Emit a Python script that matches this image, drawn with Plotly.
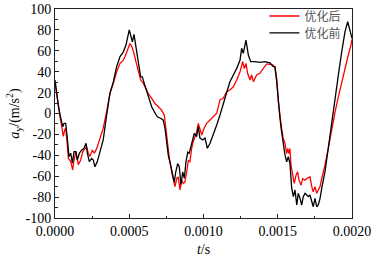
import plotly.graph_objects as go

# time in microseconds (converted to seconds below), acceleration in m/s^2
t_after_us = [0, 11, 22, 34, 45, 56, 65, 72, 83, 90, 106, 119, 128, 141, 157, 173, 187, 202, 213, 224,
              236, 251, 265, 281, 303, 325, 348, 370, 393, 415, 438, 460, 471, 490, 505, 517, 532, 545, 561, 577,
              595, 611, 628, 651, 673, 696, 718, 736, 747, 759, 770, 786, 797, 808, 820, 830, 842, 853, 864, 875,
              887, 898, 909, 920, 931, 943, 954, 965, 976, 988, 999, 1021, 1044, 1066, 1089, 1111, 1133, 1156, 1178, 1201,
              1224, 1246, 1264, 1275, 1286, 1297, 1313, 1324, 1336, 1358, 1380, 1403, 1426, 1448, 1468, 1481, 1493, 1504, 1515, 1526,
              1537, 1549, 1560, 1567, 1575, 1582, 1589, 1598, 1611, 1623, 1634, 1643, 1657, 1668, 1684, 1695, 1706, 1717, 1729, 1739,
              1751, 1762, 1773, 1785, 1796, 1818, 1840, 1863, 1886, 1908, 1931, 1953, 1975, 1993, 2000]
a_after = [30, 18, 5, -3, -12, -22, -16, -14, -30, -43, -46, -54, -44.5, -36.5, -49, -44.5, -36.5, -33.4, -32, -38,
           -41, -35, -38, -33.4, -23.7, -14, 2, 19.3, 29, 40, 48, 51, 54.4, 60.8, 67, 64, 57.6, 49.6, 41.6, 32,
           28.8, 24, 19, 14.4, 9.6, 6.4, 3.2, -1.6, -16, -30, -43, -56, -64, -70, -62, -60.7, -73, -64, -67, -65.5,
           -56, -45, -46, -33.5, -27, -22, -17.4, -9.4, -15.8, -20.6, -15.8, -9.4, -6.2, -3, 0.2, 13, 14.5, 20.9, 22.5, 25.6,
           32, 40, 49.6, 43, 48, 38.5, 32, 36.8, 30.4, 36.8, 38.5, 43.2, 47.4, 47, 46.4, 44, 33.6, 11.3, -4.8, -14.4,
           -23.9, -28.7, -38.3, -33.5, -38.3, -33.5, -49.4, -57.4, -66.9, -59, -55.8, -63.8, -68.6, -62.2, -63.8, -62.2, -61.5, -60.6, -70, -75,
           -70, -76.4, -73.2, -70, -62.2, -49.4, -33.5, -14.4, 1.6, 16, 30.5, 43.2, 56, 65.5, 71]

t_before_us = [0, 11, 22, 34, 52, 61, 72, 83, 94, 106, 117, 128, 141, 150, 164, 180, 195, 209, 218, 231,
               247, 258, 269, 285, 303, 325, 348, 370, 393, 415, 438, 460, 478, 490, 500, 512, 521, 532, 543, 554,
               566, 577, 588, 601, 618, 633, 651, 669, 689, 714, 729, 741, 752, 763, 779, 793, 803, 813, 826, 837,
               848, 860, 871, 882, 894, 904, 916, 927, 938, 954, 965, 976, 995, 1010, 1026, 1044, 1066, 1089, 1111, 1133,
               1156, 1178, 1201, 1224, 1246, 1257, 1268, 1286, 1302, 1318, 1347, 1380, 1414, 1448, 1468, 1481, 1493, 1504, 1515, 1526,
               1537, 1549, 1560, 1571, 1582, 1594, 1605, 1616, 1628, 1638, 1650, 1661, 1672, 1684, 1695, 1706, 1717, 1729, 1739, 1751,
               1762, 1773, 1785, 1796, 1818, 1840, 1863, 1886, 1908, 1931, 1953, 1971, 1987, 2000]
a_before = [32, 19.3, 8, -1.4, -12.6, -9.4, -9.4, -23.7, -41.3, -38, -47.6, -36.5, -36.5, -44.5, -38, -35, -33.4, -28.5, -38, -46,
            -43, -44.5, -51, -46, -36.5, -25, -1.4, 19.3, 30.5, 44.8, 54.4, 59, 65.5, 72, 80, 73.5, 68.6, 75.7, 64, 54.4,
            44.8, 35, 35, 28.8, 20.8, 12.8, 6.4, 1.6, -3.2, -4.8, -6.4, -14.4, -27, -40, -49.5, -59, -66, -56, -48, -51,
            -68, -56, -62, -46, -37, -38, -32, -24, -19, -22, -12.6, -23.5, -25.4, -23.5, -33.3, -28.5, -20.6, -11, -1.4, 9.8,
            19.3, 30.4, 36.8, 43.2, 51.2, 62.4, 57.6, 70.3, 56, 49.6, 49.6, 49, 49.6, 48.5, 45, 44.8, 30.5, 11.3, -4.8, -17.5,
            -30.3, -39.9, -46.2, -41.4, -47.8, -71.6, -79.6, -73.2, -87.6, -76.4, -81.2, -87.6, -79.6, -76.4, -78, -79.6, -78, -84.4, -89.2, -81.2,
            -89.2, -87.6, -81.2, -71.6, -55.7, -33.3, -7.8, 14.5, 36.8, 59.2, 78.3, 87.9, 79.9, 72]

x_tickvals = [0, 0.0005, 0.001, 0.0015, 0.002]
x_ticktext = ["0.0000", "0.0005", "0.0010", "0.0015", "0.0020"]
y_tickvals = [-100, -80, -60, -40, -20, 0, 20, 40, 60, 80, 100]
y_ticktext = ["-100", "-80", "-60", "-40", "-20", "0", "20", "40", "60", "80", "100"]

label_after = "优化后"
label_before = "优化前"

t_after = [v * 1e-6 for v in t_after_us]
t_before = [v * 1e-6 for v in t_before_us]

fig = go.Figure()
fig.add_trace(go.Scatter(x=t_after, y=a_after, mode="lines", name=label_after, legend="legend",
                         line=dict(color="#ff0000", width=1.3)))
fig.add_trace(go.Scatter(x=t_before, y=a_before, mode="lines", name=label_before, legend="legend2",
                         line=dict(color="#000000", width=1.3)))

serif = "Liberation Serif"
axis_common = dict(showgrid=False, zeroline=False, showline=True, linecolor="#222", linewidth=1,
                   mirror=True, ticks="inside", tickcolor="#222", ticklen=4, automargin=False,
                   tickfont=dict(family=serif, size=14, color="#000"))

fig.update_xaxes(range=[0, 0.002], tickvals=x_tickvals, ticktext=x_ticktext,
                 minor=dict(ticks="inside", ticklen=2.5, dtick=0.00025, tickcolor="#222"),
                 title=dict(text="<i>t</i>/s", font=dict(family=serif, size=14, color="#000"), standoff=6),
                 **axis_common)
fig.update_yaxes(range=[-100, 100], tickvals=y_tickvals, ticktext=y_ticktext,
                 minor=dict(ticks="inside", ticklen=2.5, dtick=10, tickcolor="#222"),
                 title=dict(text="<i>a</i><sub>y</sub>/(m/s<sup>2</sup>)", font=dict(family=serif, size=14, color="#000"), standoff=2),
                 **axis_common)

legend_style = dict(xanchor="left", yanchor="top", bgcolor="rgba(0,0,0,0)",
                    font=dict(family="Noto Sans CJK SC", size=12, color="#555"),
                    itemwidth=30)
fig.update_layout(
    width=373, height=258,
    margin=dict(l=55, r=21, t=9, b=40, autoexpand=False),
    font=dict(family=serif),
    paper_bgcolor="white", plot_bgcolor="white",
    showlegend=True,
    legend=dict(x=0.705, y=1.036, **legend_style),
    legend2=dict(x=0.705, y=0.955, **legend_style),
)

fig.write_html("out.html", config={"displayModeBar": False},
               post_script="document.body.style.margin='0';document.body.style.padding='0';")
